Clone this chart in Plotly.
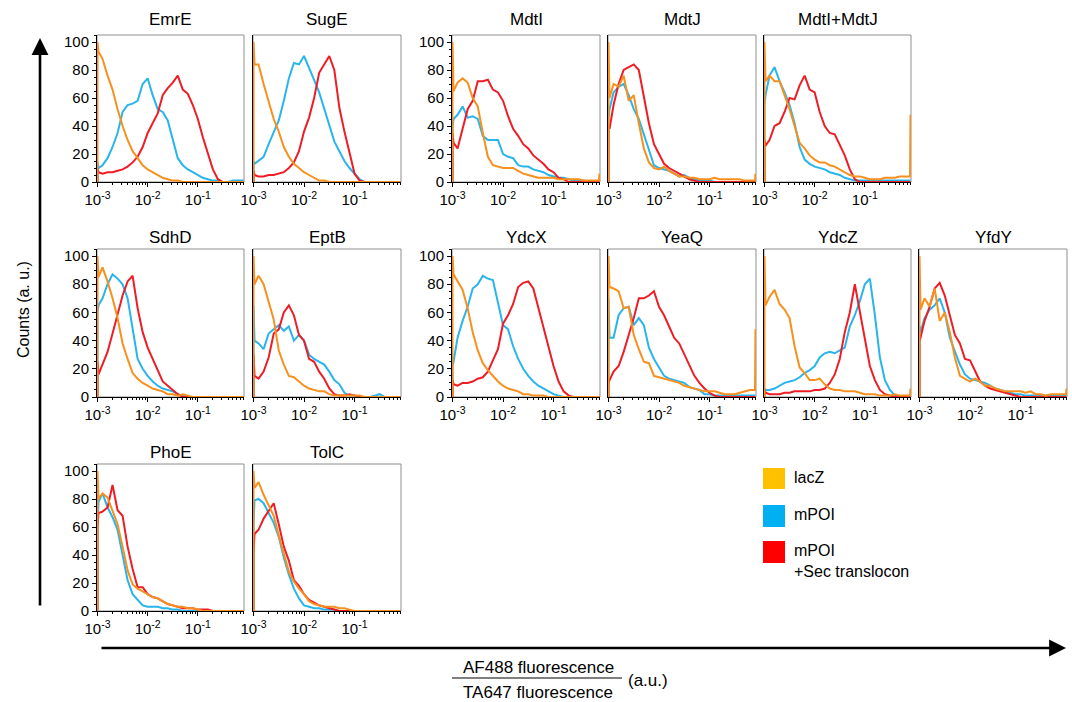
import plotly.graph_objects as go

# log10 of the bin positions (first two = left edge, last = right edge)
X_LOG = [-3.0, -3.0, -2.98, -2.9, -2.8, -2.7, -2.6, -2.5, -2.4, -2.3, -2.2, -2.1, -2.0,
         -1.9, -1.8, -1.7, -1.6, -1.5, -1.4, -1.3, -1.2, -1.1, -1.0,
         -0.9, -0.8, -0.7, -0.6, -0.5, -0.4, -0.3, -0.2, -0.1, -0.09]

SERIES = ["lacZ", "mPOI", "mPOI<br>+Sec translocon"]

# each list: [0, edge, -2.98, -2.9 ... -2.0, -1.9 ... -1.0, -0.9 ... -0.1, right edge]
emre_lacz = [0, 100, 93, 88, 76, 66, 52, 40, 30, 22, 17, 12, 9, 7, 5, 3, 2, 1, 1, 0, 0, 0, 0, 0, 0, 0, 0, 0, 0, 0, 0, 0, 0]
emre_mpoi = [0, 14, 10, 12, 17, 25, 35, 50, 55, 56, 58, 70, 74, 62, 52, 50, 44, 30, 17, 12, 9, 7, 5, 3, 2, 1, 1, 0, 0, 1, 1, 1, 1]
emre_sec = [0, 10, 7, 6, 7, 7, 8, 9, 11, 14, 18, 25, 35, 42, 49, 62, 67, 71, 76, 66, 63, 55, 45, 32, 20, 9, 2, 0, 0, 0, 0, 0, 0]

suge_lacz = [0, 100, 84, 84, 70, 58, 45, 36, 25, 18, 13, 10, 7, 5, 3, 1, 1, 0, 0, 0, 0, 0, 0, 0, 0, 0, 0, 0, 0, 0, 0, 0, 0]
suge_mpoi = [0, 15, 13, 15, 18, 27, 36, 44, 58, 74, 85, 84, 90, 82, 73, 64, 52, 40, 29, 22, 15, 10, 6, 2, 0, 0, 0, 0, 0, 0, 0, 0, 0]
suge_sec = [0, 8, 5, 4, 4, 5, 5, 6, 7, 10, 14, 22, 36, 46, 60, 78, 84, 90, 80, 53, 36, 20, 6, 1, 0, 0, 0, 0, 0, 0, 0, 0, 0]

mdti_lacz = [0, 100, 65, 71, 74, 71, 60, 54, 35, 18, 12, 11, 10, 10, 10, 8, 6, 5, 4, 3, 3, 3, 3, 2, 2, 2, 2, 2, 1, 1, 1, 1, 6]
mdti_mpoi = [0, 40, 45, 48, 54, 46, 47, 45, 33, 30, 30, 30, 20, 18, 17, 12, 11, 11, 9, 8, 7, 5, 4, 3, 3, 2, 1, 1, 1, 0, 0, 0, 0]
mdti_sec = [0, 35, 28, 24, 38, 52, 58, 72, 72, 73, 66, 64, 58, 47, 38, 33, 27, 24, 19, 16, 13, 9, 7, 3, 2, 0, 0, 0, 0, 0, 0, 0, 0]

mdtj_lacz = [0, 100, 60, 70, 68, 76, 58, 62, 42, 24, 14, 10, 9, 11, 8, 6, 4, 4, 3, 3, 2, 2, 2, 3, 2, 2, 2, 2, 2, 1, 1, 1, 6]
mdtj_mpoi = [0, 45, 52, 64, 68, 70, 62, 52, 45, 34, 22, 12, 10, 9, 8, 6, 4, 5, 3, 2, 1, 1, 1, 0, 0, 0, 0, 0, 0, 0, 0, 0, 0]
mdtj_sec = [0, 40, 38, 55, 70, 80, 82, 84, 80, 62, 42, 27, 20, 13, 10, 8, 6, 4, 2, 1, 0, 0, 0, 0, 0, 0, 0, 0, 0, 0, 0, 0, 0]

mdtij_lacz = [0, 100, 72, 76, 72, 72, 62, 52, 40, 28, 24, 19, 16, 14, 14, 12, 11, 9, 7, 5, 4, 4, 3, 2, 2, 2, 3, 3, 3, 4, 4, 4, 48]
mdtij_mpoi = [0, 55, 62, 76, 82, 72, 64, 55, 42, 25, 16, 13, 11, 10, 9, 7, 6, 5, 3, 2, 1, 1, 1, 1, 1, 1, 1, 1, 1, 1, 1, 1, 1]
mdtij_sec = [0, 30, 26, 30, 40, 42, 50, 60, 59, 69, 76, 66, 64, 50, 40, 35, 34, 26, 19, 9, 2, 0, 0, 0, 0, 0, 0, 0, 0, 0, 0, 0, 0]

sdhd_lacz = [0, 100, 85, 92, 82, 70, 56, 38, 27, 17, 13, 10, 8, 6, 5, 4, 2, 2, 1, 2, 1, 0, 0, 0, 0, 0, 0, 0, 0, 0, 0, 0, 0]
sdhd_mpoi = [0, 60, 65, 70, 80, 87, 84, 80, 70, 48, 27, 20, 15, 11, 8, 6, 5, 4, 2, 1, 0, 0, 0, 0, 0, 0, 0, 0, 0, 0, 0, 0, 0]
sdhd_sec = [0, 25, 16, 23, 32, 45, 58, 72, 82, 86, 63, 46, 35, 27, 18, 11, 8, 5, 2, 0, 0, 0, 0, 0, 0, 0, 0, 0, 0, 0, 0, 0, 0]

eptb_lacz = [0, 100, 80, 86, 80, 68, 55, 33, 23, 15, 14, 11, 8, 6, 5, 4, 4, 2, 1, 1, 1, 1, 1, 1, 0, 0, 0, 0, 0, 0, 0, 0, 0]
eptb_mpoi = [0, 65, 40, 38, 34, 45, 48, 51, 47, 50, 40, 44, 40, 30, 27, 25, 23, 18, 12, 9, 3, 1, 1, 0, 0, 0, 1, 2, 0, 0, 0, 0, 0]
eptb_sec = [0, 30, 15, 13, 18, 28, 45, 48, 60, 65, 58, 44, 40, 27, 25, 18, 13, 6, 2, 1, 1, 2, 1, 0, 0, 0, 0, 0, 0, 0, 0, 0, 0]

ydcx_lacz = [0, 100, 87, 82, 76, 63, 46, 33, 24, 19, 15, 11, 8, 6, 5, 4, 2, 2, 1, 1, 1, 0, 0, 0, 0, 0, 0, 0, 0, 0, 0, 0, 0]
ydcx_mpoi = [0, 22, 25, 42, 54, 64, 77, 80, 86, 84, 83, 68, 51, 48, 36, 27, 20, 15, 11, 8, 6, 4, 2, 1, 0, 0, 0, 0, 0, 0, 0, 0, 0]
ydcx_sec = [0, 12, 9, 8, 10, 10, 11, 13, 14, 18, 26, 34, 52, 58, 66, 78, 81, 82, 77, 63, 48, 35, 22, 11, 4, 1, 0, 0, 0, 0, 0, 0, 0]

yeaq_lacz = [0, 100, 78, 77, 75, 63, 64, 44, 34, 25, 24, 15, 14, 13, 12, 11, 10, 8, 7, 6, 5, 4, 4, 4, 3, 2, 2, 2, 3, 4, 5, 5, 48]
yeaq_mpoi = [0, 70, 42, 42, 58, 63, 64, 51, 56, 51, 35, 27, 21, 15, 13, 12, 11, 10, 7, 6, 5, 2, 2, 1, 1, 1, 1, 1, 1, 1, 1, 1, 1]
yeaq_sec = [0, 10, 12, 18, 22, 32, 44, 56, 70, 70, 72, 75, 64, 58, 50, 42, 38, 30, 23, 15, 10, 6, 3, 1, 0, 0, 0, 0, 0, 0, 0, 0, 0]

ydcz_lacz = [0, 100, 65, 71, 76, 66, 62, 56, 36, 21, 17, 12, 12, 13, 9, 6, 5, 5, 4, 4, 4, 3, 2, 2, 2, 1, 1, 1, 2, 1, 1, 1, 6]
ydcz_mpoi = [0, 6, 5, 5, 6, 8, 10, 11, 12, 14, 17, 19, 22, 28, 31, 32, 31, 33, 35, 50, 58, 68, 80, 84, 58, 28, 12, 5, 1, 0, 0, 0, 0]
ydcz_sec = [0, 5, 3, 2, 2, 2, 3, 3, 4, 4, 4, 4, 5, 5, 6, 10, 16, 27, 46, 60, 80, 60, 40, 22, 12, 5, 2, 1, 0, 0, 0, 0, 0]

yfdy_lacz = [0, 100, 62, 70, 64, 77, 54, 60, 46, 28, 15, 13, 11, 13, 11, 8, 8, 6, 5, 4, 4, 4, 4, 3, 4, 2, 2, 1, 2, 2, 2, 2, 6]
yfdy_mpoi = [0, 50, 46, 56, 62, 65, 70, 60, 42, 32, 23, 16, 13, 12, 11, 10, 8, 6, 5, 4, 3, 2, 2, 1, 1, 1, 1, 1, 1, 1, 1, 1, 1]
yfdy_sec = [0, 40, 42, 54, 64, 77, 81, 72, 58, 44, 38, 27, 26, 18, 11, 8, 6, 5, 4, 3, 2, 1, 0, 0, 0, 0, 0, 0, 0, 0, 0, 0, 0]

phoe_lacz = [0, 100, 80, 84, 81, 72, 62, 46, 29, 19, 16, 14, 12, 10, 9, 7, 5, 4, 3, 3, 2, 2, 1, 0, 0, 0, 0, 0, 0, 0, 0, 0, 0]
phoe_mpoi = [0, 60, 78, 84, 74, 67, 58, 40, 22, 12, 8, 4, 3, 3, 3, 2, 2, 1, 1, 0, 0, 0, 0, 0, 0, 0, 0, 0, 0, 0, 0, 0, 0]
phoe_sec = [0, 60, 70, 71, 74, 90, 72, 68, 46, 30, 17, 17, 12, 10, 9, 7, 5, 4, 3, 2, 2, 2, 1, 1, 1, 0, 0, 0, 0, 0, 0, 0, 0]

tolc_lacz = [0, 100, 88, 92, 83, 76, 68, 54, 40, 28, 21, 16, 12, 7, 5, 4, 3, 3, 3, 2, 2, 1, 0, 0, 0, 0, 0, 0, 0, 0, 0, 0, 0]
tolc_mpoi = [0, 62, 79, 80, 77, 70, 63, 53, 38, 26, 16, 9, 4, 3, 2, 2, 1, 1, 1, 0, 0, 0, 0, 0, 0, 0, 0, 0, 0, 0, 0, 0, 0]
tolc_sec = [0, 42, 55, 58, 66, 72, 77, 62, 46, 36, 22, 18, 12, 8, 6, 4, 3, 2, 1, 0, 0, 0, 0, 0, 0, 0, 0, 0, 0, 0, 0, 0, 0]

# name, row, col, y tick labels shown, (lacZ, mPOI, +Sec)
PANELS = [
    ("EmrE", 0, 0, True, (emre_lacz, emre_mpoi, emre_sec)),
    ("SugE", 0, 1, False, (suge_lacz, suge_mpoi, suge_sec)),
    ("MdtI", 0, 2, True, (mdti_lacz, mdti_mpoi, mdti_sec)),
    ("MdtJ", 0, 3, False, (mdtj_lacz, mdtj_mpoi, mdtj_sec)),
    ("MdtI+MdtJ", 0, 4, False, (mdtij_lacz, mdtij_mpoi, mdtij_sec)),
    ("SdhD", 1, 0, True, (sdhd_lacz, sdhd_mpoi, sdhd_sec)),
    ("EptB", 1, 1, False, (eptb_lacz, eptb_mpoi, eptb_sec)),
    ("YdcX", 1, 2, True, (ydcx_lacz, ydcx_mpoi, ydcx_sec)),
    ("YeaQ", 1, 3, False, (yeaq_lacz, yeaq_mpoi, yeaq_sec)),
    ("YdcZ", 1, 4, False, (ydcz_lacz, ydcz_mpoi, ydcz_sec)),
    ("YfdY", 1, 5, False, (yfdy_lacz, yfdy_mpoi, yfdy_sec)),
    ("PhoE", 2, 0, True, (phoe_lacz, phoe_mpoi, phoe_sec)),
    ("TolC", 2, 1, False, (tolc_lacz, tolc_mpoi, tolc_sec)),
]

LINE_COLORS = ["#F7901E", "#29B5EC", "#EE1D25"]
LEGEND_COLORS = ["#FFC000", "#00B0F0", "#FF0000"]

W, H = 1072, 702
COLS_PX = [(97, 244), (253, 401), (452, 600), (608, 756), (764, 911), (919, 1067)]
ROWS_PX = [(35, 182), (249, 397), (464, 611)]
TITLE_Y = [20, 237, 452]
FONT = "Liberation Sans, Arial, sans-serif"


def px(x, y):
    return x / W, 1 - y / H


xs = [10 ** v for v in X_LOG]
minor_x = [k * 10 ** e for e in (-3, -2, -1) for k in range(2, 10)]

fig = go.Figure()
layout = {}
shapes = []
annotations = []


def label(text, x, y, size=17, **kw):
    ax_, ay_ = px(x, y)
    d = dict(text=text, x=ax_, y=ay_, xref="paper", yref="paper", showarrow=False,
             xanchor="center", yanchor="middle", font=dict(family=FONT, size=size, color="black"))
    d.update(kw)
    annotations.append(d)


for i, (name, r, c, ylab, series) in enumerate(PANELS, start=1):
    sfx = "" if i == 1 else str(i)
    x0, x1 = COLS_PX[c]
    y0, y1 = ROWS_PX[r]
    layout[f"xaxis{sfx}"] = dict(
        domain=[x0 / W, x1 / W], anchor=f"y{sfx}", type="log", range=[-3.01, -0.08],
        tickvals=[1e-3, 1e-2, 1e-1],
        ticktext=["10<sup>-3</sup>", "10<sup>-2</sup>", "10<sup>-1</sup>"],
        ticks="outside", ticklen=4, tickcolor="black", showline=True, linecolor="black",
        linewidth=1, showgrid=False, zeroline=False, layer="below traces",
        tickfont=dict(family=FONT, size=15, color="black"),
        minor=dict(tickvals=minor_x, ticks="outside", ticklen=2, tickcolor="black", showgrid=False),
    )
    yax = dict(
        domain=[1 - y1 / H, 1 - y0 / H], anchor=f"x{sfx}", range=[0, 105],
        showline=True, linecolor="black", linewidth=1, showgrid=False, zeroline=False,
        layer="below traces", showticklabels=ylab,
        tickvals=[0, 20, 40, 60, 80, 100],
        tickfont=dict(family=FONT, size=15, color="black"),
    )
    if ylab:
        yax.update(ticks="outside", ticklen=4, tickcolor="black",
                   minor=dict(dtick=5, ticks="outside", ticklen=2, tickcolor="black", showgrid=False))
    else:
        yax.update(ticks="")
    layout[f"yaxis{sfx}"] = yax

    shapes.append(dict(type="rect", xref=f"x{sfx} domain", yref=f"y{sfx} domain",
                       x0=0, x1=1, y0=0, y1=1, line=dict(color="#8f8f8f", width=1), layer="below"))
    label(name, (x0 + x1) / 2, TITLE_Y[r])

    # draw mPOI, +Sec, then lacZ on top
    for k in (1, 2, 0):
        fig.add_trace(go.Scatter(x=xs, y=series[k], mode="lines",
                                 line=dict(color=LINE_COLORS[k], width=2),
                                 xaxis=f"x{sfx}", yaxis=f"y{sfx}", showlegend=False,
                                 hoverinfo="skip"))

# big axis arrows
hx, hy = px(40, 38)
annotations.append(dict(x=hx, y=hy, xref="paper", yref="paper", ax=0, ay=569,
                        text="", showarrow=True, arrowhead=2, arrowsize=1.3, arrowwidth=2.6,
                        arrowcolor="black"))
hx, hy = px(1066, 648)
annotations.append(dict(x=hx, y=hy, xref="paper", yref="paper", ax=-966, ay=0,
                        text="", showarrow=True, arrowhead=2, arrowsize=1.3, arrowwidth=2.6,
                        arrowcolor="black"))
label("Counts (a. u.)", 23, 310, size=16, textangle=-90)

# x-axis label as a fraction
label("AF488 fluorescence", 538, 667)
label("TA647 fluorescence", 538, 692)
label("(a.u.)", 648, 680)
lx0, ly = px(452, 678)
lx1, _ = px(622, 678)
shapes.append(dict(type="line", xref="paper", yref="paper", x0=lx0, x1=lx1, y0=ly, y1=ly,
                   line=dict(color="black", width=1.2)))

# legend
LEG_Y = [(468, 489), (505, 527), (541, 563)]
for k, name in enumerate(SERIES):
    ya, yb = LEG_Y[k]
    shapes.append(dict(type="rect", xref="paper", yref="paper", x0=763 / W, x1=785 / W,
                       y0=1 - yb / H, y1=1 - ya / H, fillcolor=LEGEND_COLORS[k],
                       line=dict(width=0)))
    label(name, 792, ya - 1, size=16, xanchor="left", yanchor="top", align="left")

fig.update_layout(
    width=W, height=H, margin=dict(l=0, r=0, t=0, b=0, autoexpand=False),
    paper_bgcolor="white", plot_bgcolor="white",
    shapes=shapes, annotations=annotations, **layout,
)

# drop the page's default body margin so the figure sits at the window origin
fig.write_html("out.html", config={"displayModeBar": False},
               post_script="document.body.style.margin = '0';")
